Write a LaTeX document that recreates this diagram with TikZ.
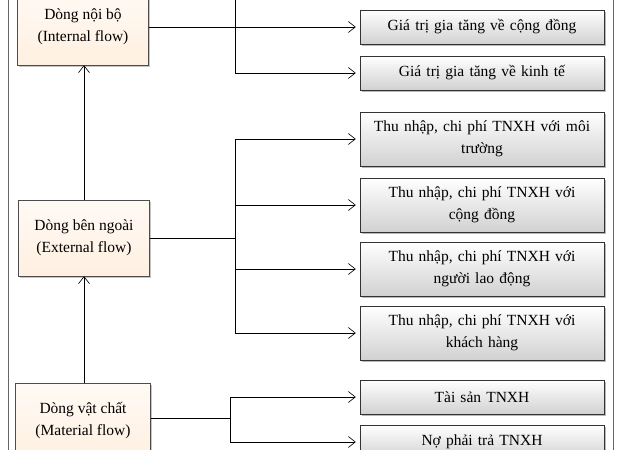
\documentclass[tikz,border=0pt]{standalone}
\usepackage{fontspec}
\setmainfont{Liberation Serif}
\usetikzlibrary{arrows.meta,shadows}

\begin{document}
\begin{tikzpicture}
                [
                    x=1pt,y=-1pt,
                    flowbox/.style={rectangle,draw=black!70,inner sep=0,top color=orange!4,bottom color=orange!12,
                        drop shadow={shadow xshift=1.5pt,shadow yshift=-1.5pt,fill=black!45},
                        minimum width=131pt,minimum height=76pt,align=center,font=\fontsize{15.5}{22}\selectfont},
                    valbox/.style={rectangle,draw=black!80,inner sep=0,top color=white,bottom color=black!18,
                        drop shadow={shadow xshift=2pt,shadow yshift=-2pt,fill=black!55},
                        minimum width=244pt,minimum height=34pt,align=center,text width=236pt,font=\fontsize{15.5}{22}\selectfont},
                    link/.style={-{Straight Barb[length=7pt,width=11pt]},draw=black,semithick},
                ]
                \useasboundingbox (0,0) rectangle (630,450);
                \clip (0,0) rectangle (630,450);
                \fill[white] (0,0) rectangle (630,450);
                \draw[black!60,thick] (8,-5) -- (8,460) (613,-5) -- (613,460);
                % left column
                \node[flowbox] (internal) at (83,27) {Dòng nội bộ\\(Internal flow)};
                \node[flowbox] (external) at (84,238) {Dòng bên ngoài\\(External flow)};
                \node[flowbox,minimum width=135pt] (material) at (83,421) {Dòng vật chất\\(Material flow)};
                \draw[link] (material.north -| 84,0) -- (external.south -| 84,0);
                \draw[link] (external.north -| 84,0) -- (internal.south -| 84,0);
                % right column
                \node[valbox] (community) at (482,27) {Giá trị gia tăng về cộng đồng};
                \node[valbox] (economy) at (482,73) {Giá trị gia tăng về kinh tế};
                \node[valbox,minimum height=54pt] (environment) at (482,139) {Thu nhập, chi phí TNXH với môi\\trường};
                \node[valbox,minimum height=54pt] (society) at (482,205) {Thu nhập, chi phí TNXH với\\cộng đồng};
                \node[valbox,minimum height=54pt] (labour) at (482,269) {Thu nhập, chi phí TNXH với\\người lao động};
                \node[valbox,minimum height=54pt] (customer) at (482,333) {Thu nhập, chi phí TNXH với\\khách hàng};
                \node[valbox] (assets) at (482,397) {Tài sản TNXH};
                \node[valbox] (debts) at (482,442) {Nợ phải trả TNXH};
                % connectors
                \coordinate (up) at (235,-5);
                \draw[link] (internal.east) -- ([xshift=-4pt]community.west);
                \draw[link] (up) |- ([xshift=-4pt]economy.west);
                \draw[semithick] (external.east) -- (235,238);
                \draw[link] (235,238) |- ([xshift=-4pt]environment.west);
                \draw[link] (235,238) |- ([xshift=-4pt]society.west);
                \draw[link] (235,238) |- ([xshift=-4pt]labour.west);
                \draw[link] (235,238) |- ([xshift=-4pt]customer.west);
                \draw[semithick] (material.east |- 0,418) -- (230,418);
                \draw[link] (230,418) |- ([xshift=-4pt]assets.west);
                \draw[link] (230,418) |- ([xshift=-4pt]debts.west);
            \end{tikzpicture}
\end{document}
